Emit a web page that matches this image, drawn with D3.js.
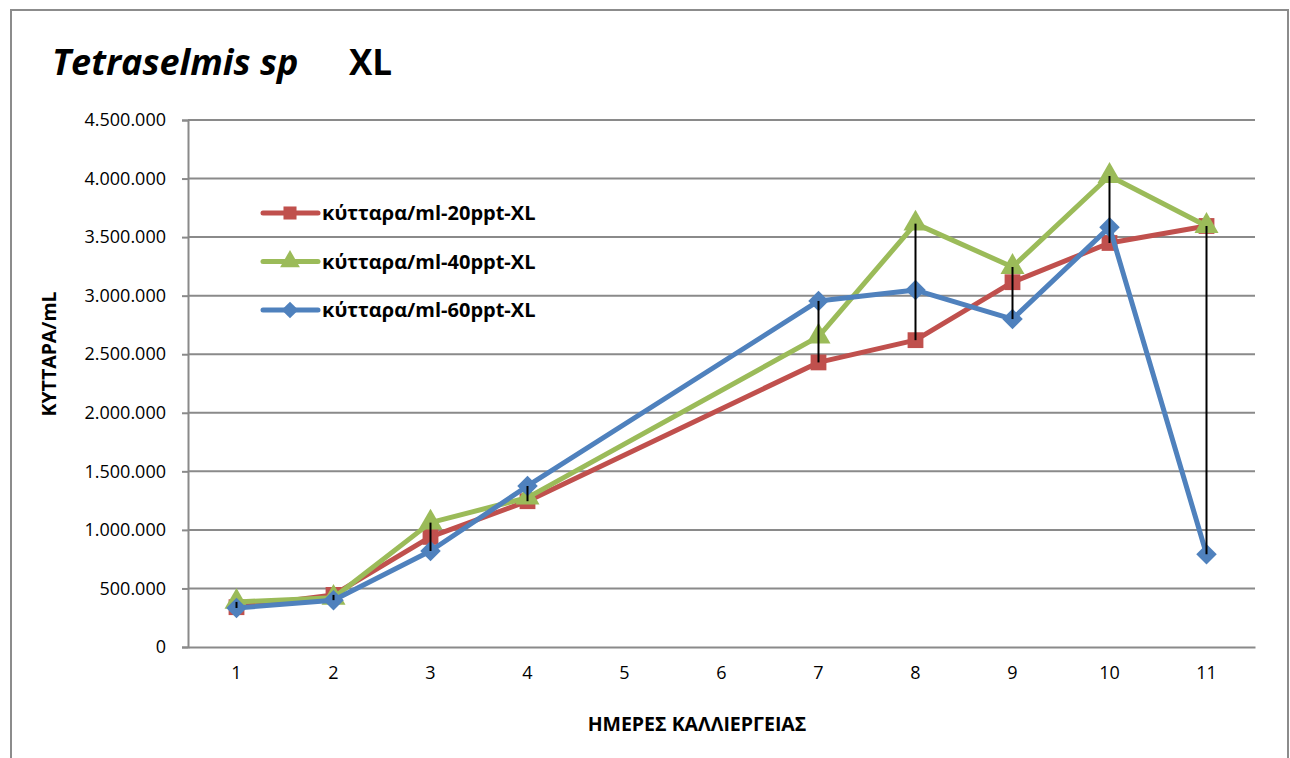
<!DOCTYPE html>
<html>
<head>
<meta charset="utf-8">
<script src="https://cdn.jsdelivr.net/npm/d3@7"></script>
<style>
  html, body { margin: 0; padding: 0; background: #fff; }
  svg { display: block; }
  text { font-family: "Open Sans", "Liberation Sans", sans-serif; }
</style>
</head>
<body>
<svg id="chart" width="1290" height="758"></svg>
<script>
// Culture days on the category axis
const days = [1, 2, 3, 4, 5, 6, 7, 8, 9, 10, 11];
// Days with counts (no samples on days 5 and 6)
const sampledDays = [1, 2, 3, 4, 7, 8, 9, 10, 11];
// Cells per mL for each salinity
const cells20 = [340000, 445000, 940000, 1245000, 2430000, 2620000, 3115000, 3450000, 3595000];
const cells40 = [385000, 420000, 1062000, 1275000, 2650000, 3615000, 3245000, 4022000, 3595000];
const cells60 = [333000, 400000, 820000, 1375000, 2955000, 3048000, 2800000, 3585000, 792000];
const seriesNames = ["κύτταρα/ml-20ppt-XL", "κύτταρα/ml-40ppt-XL", "κύτταρα/ml-60ppt-XL"];
const yTicks = [0, 500000, 1000000, 1500000, 2000000, 2500000, 3000000, 3500000, 4000000, 4500000];

const colors = ["#C0504D", "#9BBB59", "#4F81BD"];
// square, triangle, and a square turned 45° for the diamond
const symbols = [d3.symbolSquare, d3.symbolTriangle, d3.symbolSquare];
const rotations = [0, 0, 45];
const symbolSizes = [250, 250, 210];
const legendSizes = [170, 170, 140];

const svg = d3.select("#chart");

// outer chart frame
svg.append("rect")
  .attr("x", 11).attr("y", 10)
  .attr("width", 1277).attr("height", 760)
  .attr("fill", "#fff").attr("stroke", "#8c8c8c").attr("stroke-width", 2);

const plot = { left: 188, right: 1255, top: 120, bottom: 647 };

const x = d3.scaleBand().domain(days).range([plot.left, plot.right]);
const y = d3.scaleLinear().domain([0, 4500000]).range([plot.bottom, plot.top]);
const cx = d => x(d) + x.bandwidth() / 2;

const fmt = v => d3.format(",")(v).replace(/,/g, ".");

// horizontal gridlines
svg.append("g")
  .selectAll("line")
  .data(yTicks.filter(t => t > 0))
  .join("line")
  .attr("x1", plot.left).attr("x2", plot.right)
  .attr("y1", d => y(d)).attr("y2", d => y(d))
  .attr("stroke", "#8a8a8a").attr("stroke-width", 2);

// y axis
const yAxis = svg.append("g")
  .attr("transform", `translate(${plot.left},0)`)
  .call(d3.axisLeft(y).tickValues(yTicks).tickFormat(fmt).tickSize(6).tickPadding(16));
yAxis.select(".domain").attr("stroke", "#8a8a8a").attr("stroke-width", 2);
yAxis.selectAll(".tick line").attr("stroke", "#8a8a8a").attr("stroke-width", 2);
yAxis.selectAll(".tick text").attr("font-size", 18).attr("fill", "#000");

// x axis
const xAxis = svg.append("g")
  .attr("transform", `translate(0,${plot.bottom})`)
  .call(d3.axisBottom(x).tickSize(0).tickPadding(19));
xAxis.select(".domain").attr("stroke", "#8a8a8a").attr("stroke-width", 2);
xAxis.selectAll(".tick text").attr("font-size", 18).attr("fill", "#000");

// series lines and markers
const allSeries = [cells20, cells40, cells60];
const line = d3.line().x(d => cx(d[0])).y(d => y(d[1]));

allSeries.forEach((vals, i) => {
  const pts = sampledDays.map((d, j) => [d, vals[j]]);
  const g = svg.append("g");
  g.append("path")
    .datum(pts)
    .attr("d", line)
    .attr("fill", "none")
    .attr("stroke", colors[i])
    .attr("stroke-width", 5)
    .attr("stroke-linejoin", "round");
  g.selectAll("path.marker")
    .data(pts)
    .join("path")
    .attr("class", "marker")
    .attr("transform", d => `translate(${cx(d[0])},${y(d[1])}) rotate(${rotations[i]})`)
    .attr("d", d3.symbol().type(symbols[i]).size(symbolSizes[i]))
    .attr("fill", colors[i]);
});

// high-low lines between the lowest and highest count of each day
svg.append("g")
  .selectAll("line")
  .data(sampledDays.map((d, j) => {
    const v = allSeries.map(s => s[j]);
    return { day: d, lo: d3.min(v), hi: d3.max(v) };
  }))
  .join("line")
  .attr("x1", d => cx(d.day)).attr("x2", d => cx(d.day))
  .attr("y1", d => y(d.lo)).attr("y2", d => y(d.hi))
  .attr("stroke", "#000").attr("stroke-width", 2);

// legend
const legend = svg.append("g");
seriesNames.forEach((name, i) => {
  const ly = 213 + i * 48.5;
  legend.append("line")
    .attr("x1", 263).attr("x2", 318).attr("y1", ly).attr("y2", ly)
    .attr("stroke", colors[i]).attr("stroke-width", 5).attr("stroke-linecap", "round");
  legend.append("path")
    .attr("transform", `translate(290,${ly}) rotate(${rotations[i]})`)
    .attr("d", d3.symbol().type(symbols[i]).size(legendSizes[i]))
    .attr("fill", colors[i]);
  legend.append("text")
    .attr("x", 322).attr("y", ly + 7)
    .attr("font-size", 20).attr("font-weight", "bold").attr("fill", "#000")
    .text(name);
});

// title
svg.append("text")
  .attr("x", 52).attr("y", 75)
  .attr("font-size", 36).attr("font-weight", "bold").attr("font-style", "italic")
  .text("Tetraselmis sp");
svg.append("text")
  .attr("x", 349).attr("y", 75)
  .attr("font-size", 35).attr("font-weight", "bold")
  .text("XL");

// axis titles
svg.append("text")
  .attr("transform", "translate(56,354) rotate(-90)")
  .attr("text-anchor", "middle")
  .attr("font-size", 19.5).attr("font-weight", "bold")
  .text("ΚΥΤΤΑΡΑ/mL");
svg.append("text")
  .attr("x", 697).attr("y", 731)
  .attr("text-anchor", "middle")
  .attr("font-size", 19.5).attr("font-weight", "bold")
  .text("ΗΜΕΡΕΣ ΚΑΛΛΙΕΡΓΕΙΑΣ");
</script>
</body>
</html>
